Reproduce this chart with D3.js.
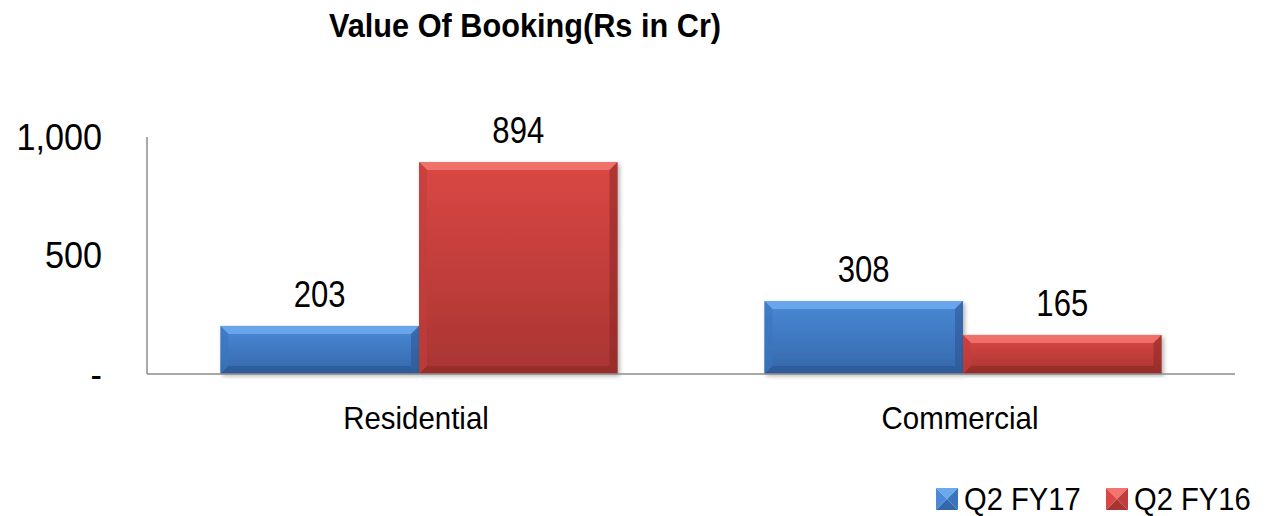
<!DOCTYPE html>
<html>
<head>
<meta charset="utf-8">
<script src="https://cdn.jsdelivr.net/npm/d3@7"></script>
<style>
  html, body { margin: 0; padding: 0; background: #fff; }
  svg { display: block; font-family: "Liberation Sans", Arial, sans-serif; }
</style>
</head>
<body>
<svg id="chart" width="1271" height="516"></svg>
<script>
const categories = ["Residential", "Commercial"];
const seriesNames = ["Q2 FY17", "Q2 FY16"];
const q2fy17 = [203, 308];
const q2fy16 = [894, 165];
const yTicks = [0, 500, 1000];
const titleText = "Value Of Booking(Rs in Cr)";

const seriesValues = [q2fy17, q2fy16];
const colors = {
  "Q2 FY17": { light: "#6aa9ec", top: "#4a8ad6", bottom: "#3567ab", dark: "#2a5490", side: "#3b74bd" },
  "Q2 FY16": { light: "#f27370", top: "#da4744", bottom: "#a93533", dark: "#8a2826", side: "#c13d3a" }
};

const svg = d3.select("#chart");
const W = 1271, H = 516;
const margin = { left: 147, right: 36, top: 137, bottom: 142 };

const x0 = d3.scaleBand().domain(categories).range([margin.left, W - margin.right]).padding(0);
const x1 = d3.scaleBand().domain(seriesNames).range([0, x0.bandwidth()]).paddingInner(0).paddingOuter(0.37);
const y = d3.scaleLinear().domain([0, 1000]).range([H - margin.bottom, margin.top]);

const defs = svg.append("defs");
seriesNames.forEach((s, i) => {
  const g = defs.append("linearGradient").attr("id", "grad" + i).attr("x1", 0).attr("y1", 0).attr("x2", 0).attr("y2", 1);
  g.append("stop").attr("offset", "0%").attr("stop-color", colors[s].top);
  g.append("stop").attr("offset", "100%").attr("stop-color", colors[s].bottom);
});
const sh = defs.append("filter").attr("id", "shadow").attr("x", "-5%").attr("y", "-5%").attr("width", "115%").attr("height", "115%");
sh.append("feDropShadow").attr("dx", 2).attr("dy", 2).attr("stdDeviation", 2).attr("flood-color", "#000").attr("flood-opacity", 0.3);

// Title
svg.append("text")
  .attr("transform", "translate(525,37) scale(0.93,1)")
  .attr("text-anchor", "middle")
  .attr("font-weight", "bold")
  .attr("font-size", 33)
  .attr("fill", "#000")
  .text(titleText);

// Y axis line
svg.append("line")
  .attr("x1", margin.left).attr("x2", margin.left)
  .attr("y1", y(1000)).attr("y2", y(0))
  .attr("stroke", "#8c8c8c").attr("stroke-width", 1.5);

// Y tick labels
const fmt = d3.format(",");
svg.append("g").selectAll("text").data(yTicks).join("text")
  .attr("transform", d => `translate(102,${y(d)}) scale(0.95,1)`)
  .attr("dy", "0.36em")
  .attr("text-anchor", "end")
  .attr("font-size", 36)
  .attr("fill", "#000")
  .text(d => d === 0 ? "-" : fmt(d));

// Bars
const bev = 8;
const groups = svg.append("g").selectAll("g").data(categories).join("g")
  .attr("transform", c => `translate(${x0(c)},0)`);

categories.forEach((c, ci) => {
  const g = groups.filter(d => d === c);
  seriesNames.forEach((s, si) => {
    const v = seriesValues[si][ci];
    const bx = x1(s), bw = x1.bandwidth();
    const by = y(v), bh = y(0) - y(v);
    const bg = g.append("g").attr("filter", "url(#shadow)");
    bg.append("rect").attr("x", bx).attr("y", by).attr("width", bw).attr("height", bh)
      .attr("fill", `url(#grad${si})`);
    const b = Math.min(bev, bh / 2);
    bg.append("polygon").attr("points", [[bx, by], [bx + bw, by], [bx + bw - b, by + b], [bx + b, by + b]].join(" "))
      .attr("fill", colors[s].light).attr("opacity", 0.9);
    bg.append("polygon").attr("points", [[bx, by], [bx + b, by + b], [bx + b, by + bh - b], [bx, by + bh]].join(" "))
      .attr("fill", colors[s].side).attr("opacity", 0.6);
    bg.append("polygon").attr("points", [[bx + bw, by], [bx + bw, by + bh], [bx + bw - b, by + bh - b], [bx + bw - b, by + b]].join(" "))
      .attr("fill", colors[s].dark).attr("opacity", 0.55);
    bg.append("polygon").attr("points", [[bx, by + bh], [bx + b, by + bh - b], [bx + bw - b, by + bh - b], [bx + bw, by + bh]].join(" "))
      .attr("fill", colors[s].dark).attr("opacity", 0.6);
    g.append("text")
      .attr("transform", `translate(${bx + bw / 2},${by - 19}) scale(0.84,1)`)
      .attr("text-anchor", "middle")
      .attr("font-size", 37)
      .attr("fill", "#000")
      .text(v);
  });
});

// Baseline (x axis)
svg.append("line")
  .attr("x1", margin.left).attr("x2", W - margin.right)
  .attr("y1", y(0)).attr("y2", y(0))
  .attr("stroke", "#8c8c8c").attr("stroke-width", 1.5);

// Category labels
svg.append("g").selectAll("text").data(categories).join("text")
  .attr("transform", c => `translate(${x0(c) + x0.bandwidth() / 2 - 3},429) scale(0.92,1)`)
  .attr("text-anchor", "middle")
  .attr("font-size", 32)
  .attr("fill", "#000")
  .text(c => c);

// Legend
const legX = [936, 1106];
const legend = svg.append("g").selectAll("g").data(seriesNames).join("g")
  .attr("transform", (s, i) => `translate(${legX[i]},488)`);
const sq = 22;
legend.each(function (s) {
  const g = d3.select(this);
  const c = colors[s];
  const m = sq / 2;
  g.append("polygon").attr("points", [[0, 0], [sq, 0], [m, m]].join(" ")).attr("fill", c.light);
  g.append("polygon").attr("points", [[0, 0], [m, m], [0, sq]].join(" ")).attr("fill", c.top);
  g.append("polygon").attr("points", [[sq, 0], [sq, sq], [m, m]].join(" ")).attr("fill", c.side);
  g.append("polygon").attr("points", [[0, sq], [m, m], [sq, sq]].join(" ")).attr("fill", c.bottom);
  g.append("text").attr("transform", "translate(28,22) scale(0.94,1)")
    .attr("font-size", 31).attr("fill", "#000").text(s);
});
</script>
</body>
</html>
